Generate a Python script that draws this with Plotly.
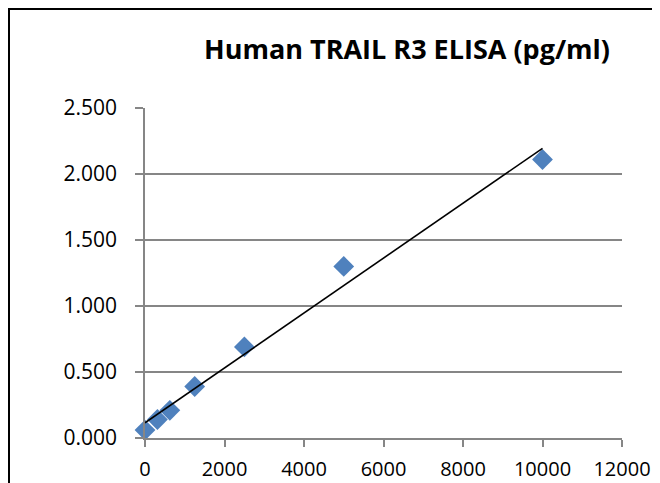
import numpy as np
import plotly.graph_objects as go

concentration = [0, 312.5, 625, 1250, 2500, 5000, 10000]
od_values = [0.06, 0.14, 0.21, 0.39, 0.69, 1.30, 2.11]
x_ticks = [0, 2000, 4000, 6000, 8000, 10000, 12000]
y_ticks = [0.0, 0.5, 1.0, 1.5, 2.0, 2.5]
title_text = "Human TRAIL R3 ELISA (pg/ml)"

slope, intercept = np.polyfit(concentration, od_values, 1)
fit_x = [min(concentration), max(concentration)]
fit_y = [slope * v + intercept for v in fit_x]

fig = go.Figure()
fig.add_trace(go.Scatter(
    x=concentration, y=od_values, mode="markers",
    marker=dict(symbol="diamond", size=16, color="#4F81BD", line=dict(width=0)),
    showlegend=False, cliponaxis=False,
))
fig.add_trace(go.Scatter(
    x=fit_x, y=fit_y, mode="lines",
    line=dict(color="black", width=1.6),
    showlegend=False, cliponaxis=False,
))

OFF = 8  # page body margin offset
W, H = 660 - OFF, 483 - OFF
# target pixel positions in the screenshot
plot_left, plot_right, plot_top, plot_bottom = 145, 622, 108, 438
ml = plot_left - OFF
mt = plot_top - OFF
mr = W - (plot_right - OFF)
mb = H - (plot_bottom - OFF)
pw, ph = W - ml - mr, H - mt - mb

def px_to_paper_x(px):
    return (px - OFF - ml) / pw

def px_to_paper_y(py):
    return 1 - (py - OFF - mt) / ph

fig.add_shape(type="rect", xref="paper", yref="paper",
              x0=px_to_paper_x(OFF + 1), x1=px_to_paper_x(720),
              y0=px_to_paper_y(560), y1=px_to_paper_y(OFF + 1),
              line=dict(color="black", width=2), fillcolor="rgba(0,0,0,0)", layer="below")

fig.update_layout(
    width=W, height=H,
    margin=dict(l=ml, r=mr, t=mt, b=mb, autoexpand=False),
    paper_bgcolor="white", plot_bgcolor="white",
    font=dict(family="Open Sans, Liberation Sans, sans-serif", size=21, color="black"),
    title=dict(text="<b>" + title_text + "</b>", x=px_to_paper_x(407), xref="paper",
               xanchor="center", y=1 - (50 - OFF) / H, yanchor="middle",
               font=dict(size=27, color="black"), automargin=False),
)
fig.update_xaxes(
    range=[0, 12000], tickvals=x_ticks, ticktext=[str(v) for v in x_ticks],
    showgrid=False, zeroline=False, showline=True, linecolor="#868686", linewidth=1.5,
    ticks="outside", ticklen=7, tickcolor="#868686", tickwidth=1.5,
    ticklabelstandoff=5, automargin=False,
    tickfont=dict(size=20), fixedrange=True,
)
fig.update_yaxes(
    range=[0, 2.5], tickvals=y_ticks, tickformat=".3f",
    showgrid=True, gridcolor="#868686", gridwidth=1.5, zeroline=False,
    showline=True, linecolor="#868686", linewidth=1.5,
    ticks="outside", ticklen=8, tickcolor="#868686", tickwidth=1.5,
    ticklabelstandoff=14, automargin=False,
    tickfont=dict(size=21), fixedrange=True,
)

fig.write_html("out.html")
